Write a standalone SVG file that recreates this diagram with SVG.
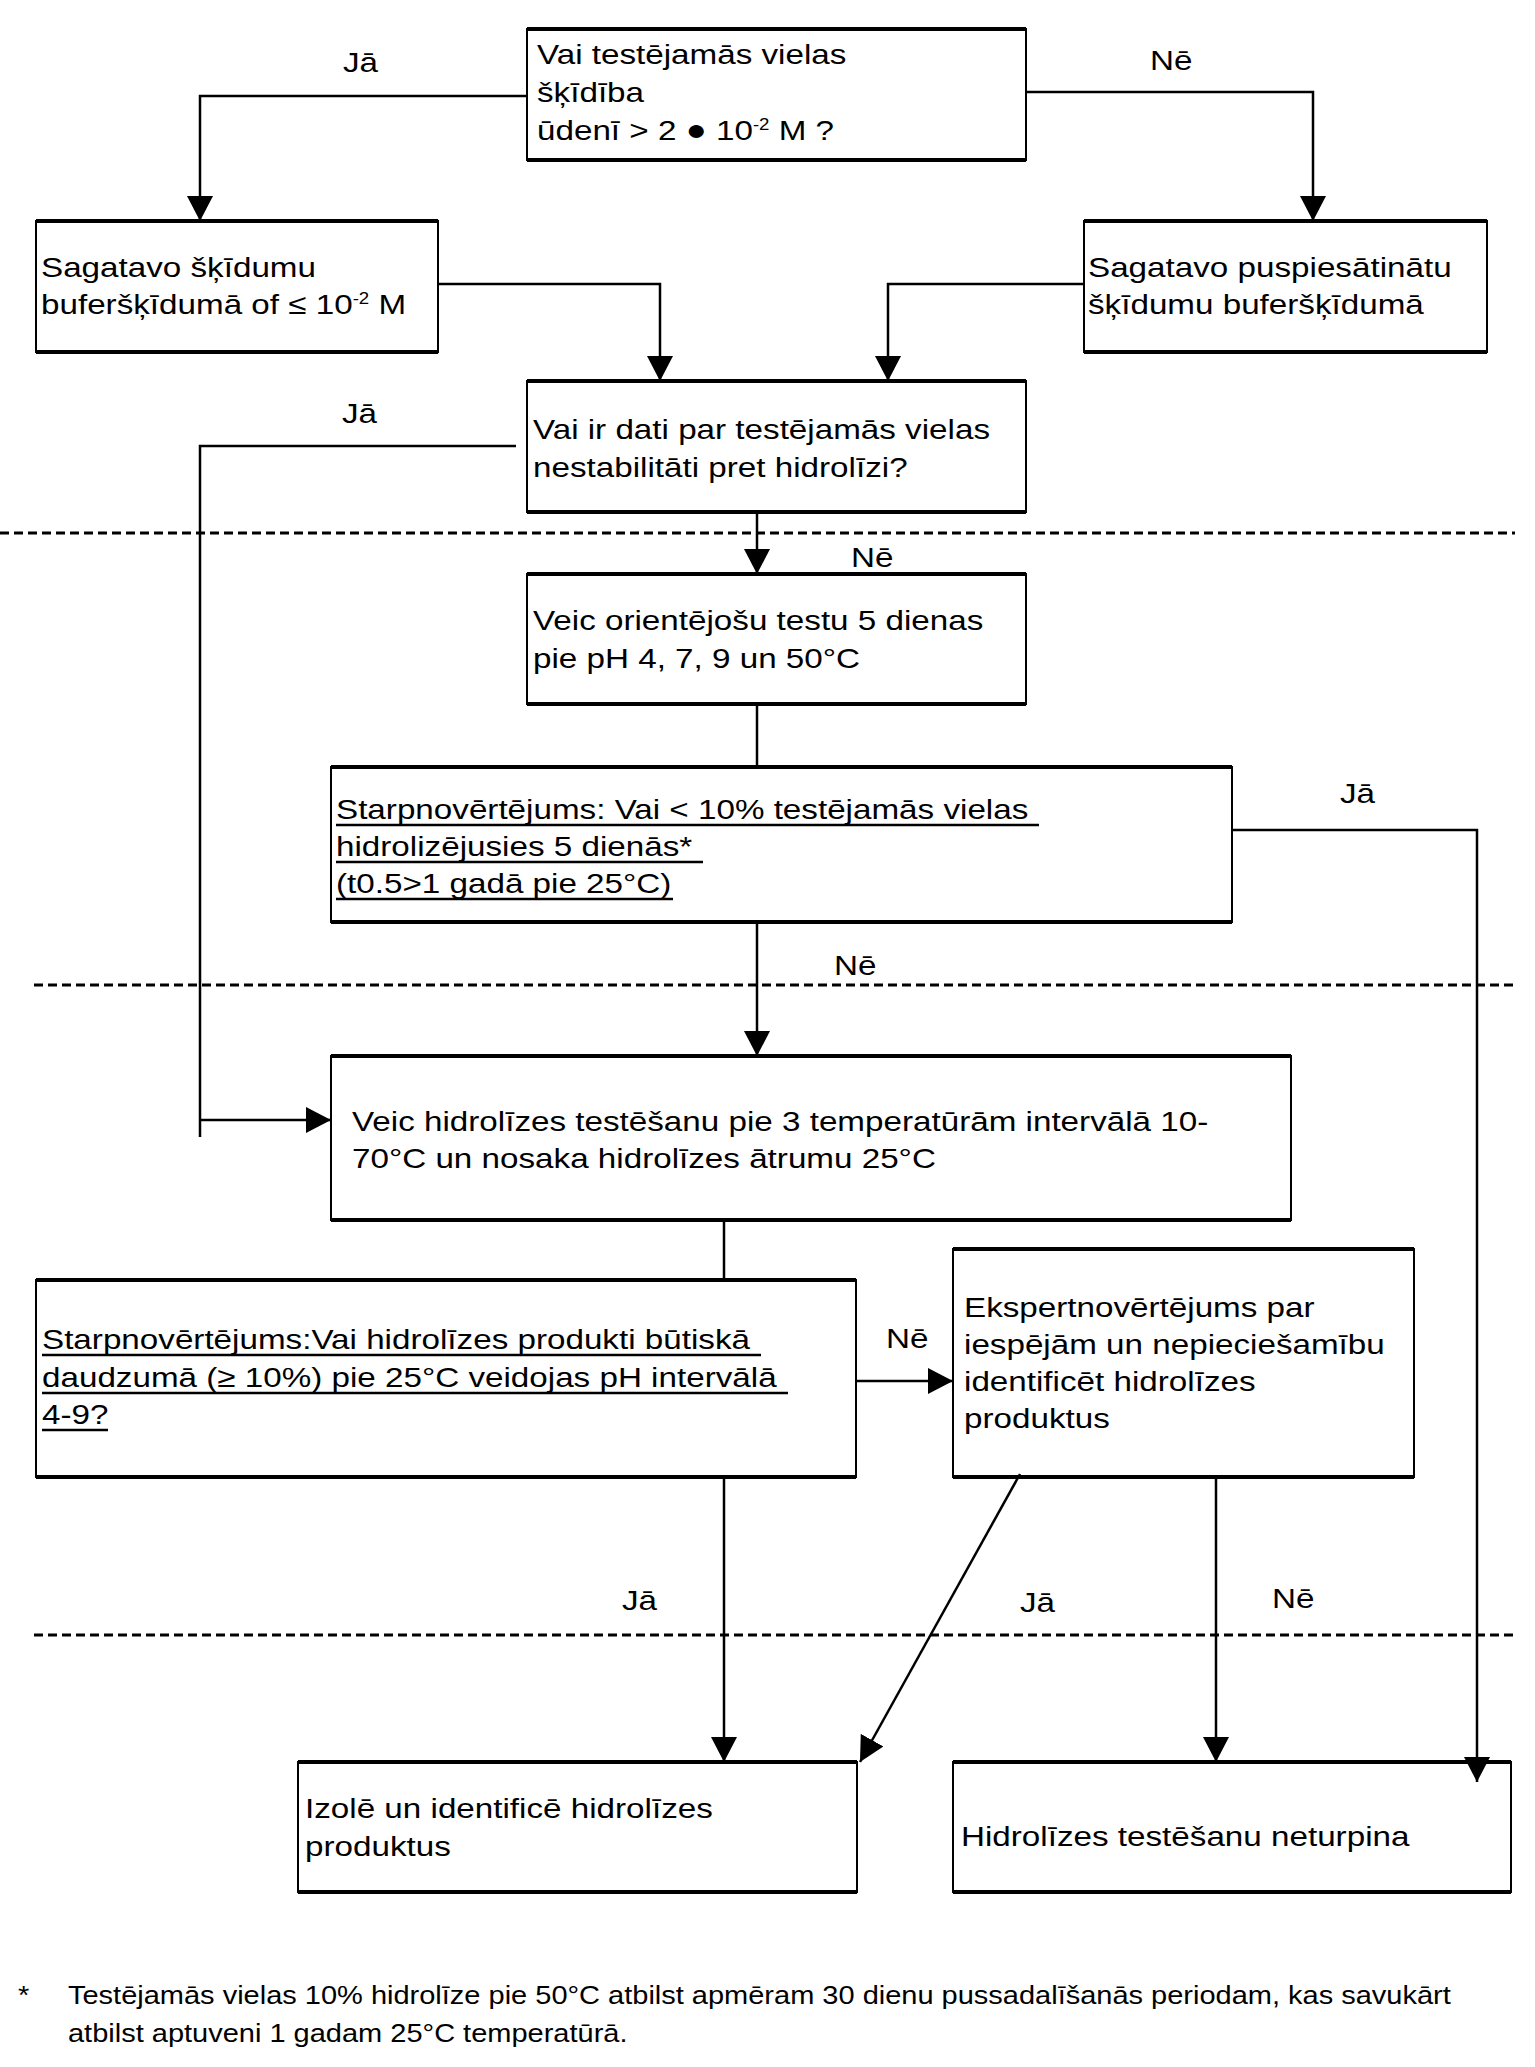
<svg xmlns="http://www.w3.org/2000/svg" width="1535" height="2067" viewBox="0 0 1535 2067">
<style>
.box{fill:#fff;stroke:#000;stroke-width:2}
.tb{fill:none;stroke:#000;stroke-width:4}
.t{font-family:"Liberation Sans",Arial,sans-serif;font-size:28.5px;fill:#000}
.fn{font-family:"Liberation Sans",Arial,sans-serif;font-size:25px;fill:#000}
.sup{font-size:16px}
.ul{stroke:#000;stroke-width:2.5}
.c{fill:none;stroke:#000;stroke-width:2.5}
.a{marker-end:url(#ah)}
.dash{fill:none;stroke:#000;stroke-width:3;stroke-dasharray:9 5}
</style>
<defs>
<marker id="ah" markerUnits="userSpaceOnUse" markerWidth="26" markerHeight="26" refX="25" refY="13" orient="auto">
<path d="M0,0 L25,13 L0,26 z" fill="#000"/>
</marker>
</defs>
<rect width="1535" height="2067" fill="#fff"/>

<g id="separators">
<path class="dash" d="M0,533 H1515"/>
<path class="dash" d="M34,985 H1515"/>
<path class="dash" d="M34,1635 H1515"/>
</g>

<g id="labels">
<text class="t" transform="translate(343,72) scale(1.165,1)">Jā</text>
<text class="t" transform="translate(1150,70) scale(1.165,1)">Nē</text>
<text class="t" transform="translate(342,423) scale(1.165,1)">Jā</text>
<text class="t" transform="translate(851,567) scale(1.165,1)">Nē</text>
<text class="t" transform="translate(1340,803) scale(1.165,1)">Jā</text>
<text class="t" transform="translate(834,975) scale(1.165,1)">Nē</text>
<text class="t" transform="translate(886,1348) scale(1.165,1)">Nē</text>
<text class="t" transform="translate(622,1610) scale(1.165,1)">Jā</text>
<text class="t" transform="translate(1020,1612) scale(1.165,1)">Jā</text>
<text class="t" transform="translate(1272,1608) scale(1.165,1)">Nē</text>
</g>

<g id="n1">
<rect class="box" x="527" y="29" width="499" height="131"/>
<path class="tb" d="M527,29 H1026 M527,160 H1026"/>
<text class="t" transform="translate(537,64) scale(1.165,1)"><tspan x="0" y="0">Vai testējamās vielas</tspan><tspan x="0" y="38">šķīdība</tspan><tspan x="0" y="76">ūdenī &gt; 2 <tspan font-size="30px">●</tspan> 10<tspan class="sup" dy="-10">-2</tspan><tspan dy="10"> M ?</tspan></tspan></text>
</g>

<g id="n2">
<rect class="box" x="36" y="221" width="402" height="131"/>
<path class="tb" d="M36,221 H438 M36,352 H438"/>
<text class="t" transform="translate(41,277) scale(1.165,1)"><tspan x="0" y="0">Sagatavo šķīdumu</tspan><tspan x="0" y="37">buferšķīdumā of ≤ 10<tspan class="sup" dy="-10">-2</tspan><tspan dy="10"> M</tspan></tspan></text>
</g>

<g id="n3">
<rect class="box" x="1084" y="221" width="403" height="131"/>
<path class="tb" d="M1084,221 H1487 M1084,352 H1487"/>
<text class="t" transform="translate(1088,277) scale(1.165,1)"><tspan x="0" y="0">Sagatavo puspiesātinātu</tspan><tspan x="0" y="37">šķīdumu buferšķīdumā</tspan></text>
</g>

<g id="n4">
<rect class="box" x="527" y="381" width="499" height="131"/>
<path class="tb" d="M527,381 H1026 M527,512 H1026"/>
<text class="t" transform="translate(533,439) scale(1.165,1)"><tspan x="0" y="0">Vai ir dati par testējamās vielas</tspan><tspan x="0" y="38">nestabilitāti pret hidrolīzi?</tspan></text>
</g>

<g id="n5">
<rect class="box" x="527" y="574" width="499" height="130"/>
<path class="tb" d="M527,574 H1026 M527,704 H1026"/>
<text class="t" transform="translate(533,630) scale(1.165,1)"><tspan x="0" y="0">Veic orientējošu testu 5 dienas</tspan><tspan x="0" y="38">pie pH 4, 7, 9 un 50°C</tspan></text>
</g>

<g id="n6">
<rect class="box" x="331" y="767" width="901" height="155"/>
<path class="tb" d="M331,767 H1232 M331,922 H1232"/>
<text class="t" transform="translate(336,819) scale(1.165,1)"><tspan x="0" y="0">Starpnovērtējums: Vai &lt; 10% testējamās vielas</tspan><tspan x="0" y="37">hidrolizējusies 5 dienās*</tspan><tspan x="0" y="74">(t0.5&gt;1 gadā pie 25°C)</tspan></text>
<path class="ul" d="M336,825 H1039 M336,862 H703 M336,899 H673"/>
</g>

<g id="n7">
<rect class="box" x="331" y="1056" width="960" height="164"/>
<path class="tb" d="M331,1056 H1291 M331,1220 H1291"/>
<text class="t" transform="translate(352,1131) scale(1.165,1)"><tspan x="0" y="0">Veic hidrolīzes testēšanu pie 3 temperatūrām intervālā 10-</tspan><tspan x="0" y="37">70°C un nosaka hidrolīzes ātrumu 25°C</tspan></text>
</g>

<g id="n8">
<rect class="box" x="36" y="1280" width="820" height="197"/>
<path class="tb" d="M36,1280 H856 M36,1477 H856"/>
<text class="t" transform="translate(42,1349) scale(1.165,1)"><tspan x="0" y="0">Starpnovērtējums:Vai hidrolīzes produkti būtiskā</tspan><tspan x="0" y="38">daudzumā (≥ 10%) pie 25°C veidojas pH intervālā</tspan><tspan x="0" y="75">4-9?</tspan></text>
<path class="ul" d="M42,1355 H761 M42,1393 H788 M42,1430 H108"/>
</g>

<g id="n9">
<rect class="box" x="953" y="1249" width="461" height="228"/>
<path class="tb" d="M953,1249 H1414 M953,1477 H1414"/>
<text class="t" transform="translate(964,1317) scale(1.165,1)"><tspan x="0" y="0">Ekspertnovērtējums par</tspan><tspan x="0" y="37">iespējām un nepieciešamību</tspan><tspan x="0" y="74">identificēt hidrolīzes</tspan><tspan x="0" y="111">produktus</tspan></text>
</g>

<g id="n10">
<rect class="box" x="298" y="1762" width="559" height="130"/>
<path class="tb" d="M298,1762 H857 M298,1892 H857"/>
<text class="t" transform="translate(305,1818) scale(1.165,1)"><tspan x="0" y="0">Izolē un identificē hidrolīzes</tspan><tspan x="0" y="38">produktus</tspan></text>
</g>

<g id="n11">
<rect class="box" x="953" y="1762" width="558" height="130"/>
<path class="tb" d="M953,1762 H1511 M953,1892 H1511"/>
<text class="t" transform="translate(961,1846) scale(1.165,1)">Hidrolīzes testēšanu neturpina</text>
</g>

<g id="connectors">
<path class="c a" d="M527,96 H200 V221"/>
<path class="c a" d="M1026,92 H1313 V221"/>
<path class="c a" d="M438,284 H660 V381"/>
<path class="c a" d="M1084,284 H888 V381"/>
<path class="c a" d="M757,512 V574"/>
<path class="c" d="M516,446 H200 V1137"/>
<path class="c a" d="M200,1120 H331"/>
<path class="c" d="M757,704 V767"/>
<path class="c a" d="M757,922 V1056"/>
<path class="c a" d="M1232,830 H1477 V1782"/>
<path class="c" d="M724,1220 V1280"/>
<path class="c a" d="M856,1381 H953"/>
<path class="c a" d="M724,1477 V1762"/>
<path class="c a" d="M1020,1474 L860,1762"/>
<path class="c a" d="M1216,1477 V1762"/>
</g>

<g id="footnote">
<text class="fn" transform="translate(18,2004) scale(1.16,1)">*</text>
<text class="fn" transform="translate(68,2004) scale(1.16,1)"><tspan x="0" y="0">Testējamās vielas 10% hidrolīze pie 50°C atbilst apmēram 30 dienu pussadalīšanās periodam, kas savukārt</tspan><tspan x="0" y="38">atbilst aptuveni 1 gadam 25°C temperatūrā.</tspan></text>
</g>
</svg>
